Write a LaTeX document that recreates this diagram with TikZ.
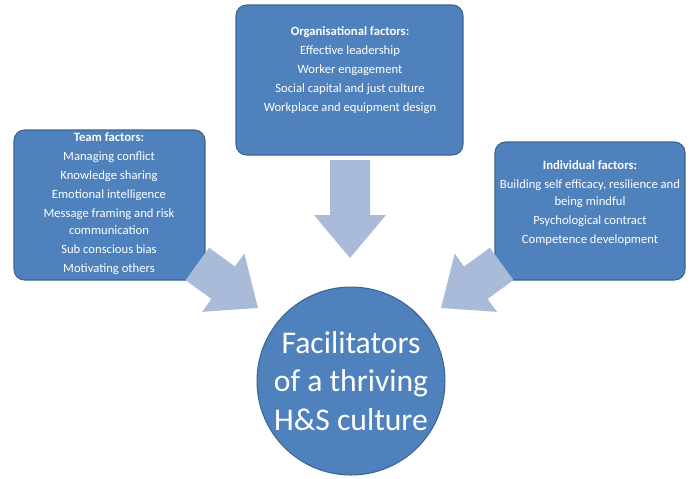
\documentclass[tikz,border=0pt]{standalone}
\usepackage{fontspec}
\setmainfont{Carlito}
\definecolor{boxblue}{HTML}{4F81BD}
\definecolor{boxedge}{HTML}{3A6592}
\definecolor{arrowblue}{HTML}{A9BBD8}
\tikzset{
	factorbox/.style={draw=boxedge,fill=boxblue,rounded corners=6pt,line width=0.6pt},
	factortext/.style={text=white,align=center,font=\fontsize{7.2}{9.8}\selectfont},
	bigarrow/.style={fill=arrowblue,draw=none}
}
% block arrow pointing along +x, tip at local origin: #1 = total length
\newcommand{\blockarrow}[1]{(0,0) -- (-43,36) -- (-43,20) -- (-#1,20) -- (-#1,-20) -- (-43,-20) -- (-43,-36) -- cycle}
\begin{document}
\begin{tikzpicture}[x=0.02cm,y=-0.02cm]
\useasboundingbox (0,0) rectangle (699,478);
%%% Factor boxes
\draw[factorbox] (236,5) rectangle (463,155);
\node[factortext] (org) at (350,70) {\textbf{Organisational factors:}\\[1pt]Effective leadership\\[1pt]Worker engagement\\[1pt]Social capital and just culture\\[1pt]Workplace and equipment design};
\draw[factorbox] (14,130) rectangle (205,280);
\node[factortext] (team) at (109,204) {\textbf{Team factors:}\\[1pt]Managing conflict\\[1pt]Knowledge sharing\\[1pt]Emotional intelligence\\[1pt]Message framing and risk\\communication\\[1pt]Sub conscious bias\\[1pt]Motivating others};
\draw[factorbox] (495,142) rectangle (685,280);
\node[factortext] (indiv) at (590,203) {\textbf{Individual factors:}\\[1pt]Building self efficacy, resilience and\\being mindful\\[1pt]Psychological  contract\\[1pt]Competence development};
%%% Arrows
\fill[bigarrow,shift={(350,258)},rotate=-90] \blockarrow{98};
\fill[bigarrow,shift={(258,308)},rotate=-36] \blockarrow{75};
\fill[bigarrow,shift={(441,308)},rotate=-144] \blockarrow{75};
%%% Circle
\node[circle,draw=boxedge,fill=boxblue,line width=0.6pt,inner sep=0pt,minimum size=3.76cm,text=white,align=center,font=\fontsize{18}{22}\selectfont] (core) at (351,381) {Facilitators\\of a thriving\\H\&S culture};
\end{tikzpicture}
\end{document}
